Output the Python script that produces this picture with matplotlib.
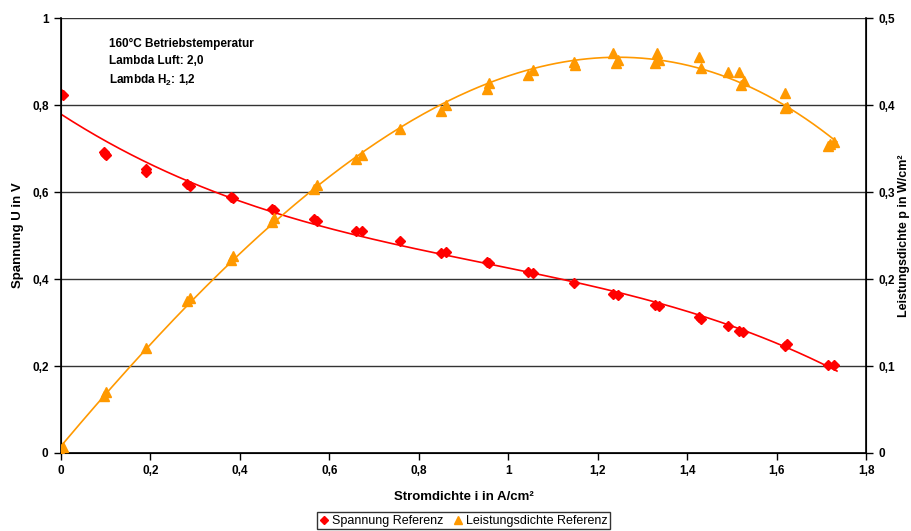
import matplotlib
matplotlib.use("Agg")
import matplotlib.pyplot as plt
import numpy as np
from matplotlib.ticker import FuncFormatter, MultipleLocator

plt.rcParams['font.family'] = ['Liberation Sans', 'DejaVu Sans']
plt.rcParams['mathtext.fontset'] = 'custom'
plt.rcParams['mathtext.rm'] = 'Liberation Sans'
plt.rcParams['mathtext.bf'] = 'Liberation Sans:bold'
plt.rcParams['mathtext.default'] = 'bf'

# voltage measurements (current density i in A/cm², voltage U in V)
i_u = [0.0, 0.005, 0.095, 0.1, 0.098, 0.19, 0.19, 0.282, 0.288, 0.38, 0.385,
       0.472, 0.477, 0.566, 0.572, 0.66, 0.672, 0.758, 0.85, 0.86, 0.953, 0.957,
       1.045, 1.055, 1.147, 1.235, 1.245, 1.328, 1.338, 1.427, 1.432, 1.491,
       1.515, 1.525, 1.618, 1.623, 1.715, 1.728]
u = [0.825, 0.823, 0.692, 0.685, 0.688, 0.652, 0.645, 0.618, 0.615, 0.589, 0.587,
     0.562, 0.558, 0.537, 0.533, 0.51, 0.51, 0.487, 0.46, 0.463, 0.438, 0.436,
     0.415, 0.414, 0.39, 0.366, 0.364, 0.34, 0.339, 0.312, 0.308, 0.292,
     0.28, 0.279, 0.245, 0.25, 0.203, 0.203]

# power density measurements (i in A/cm², p in W/cm²)
i_p = [0.0, 0.005, 0.095, 0.1, 0.19, 0.282, 0.288, 0.38, 0.385,
       0.472, 0.477, 0.566, 0.572, 0.66, 0.672, 0.758, 0.85, 0.86, 0.953, 0.957,
       1.045, 1.055, 1.147, 1.15, 1.235, 1.245, 1.24, 1.333, 1.328, 1.338,
       1.427, 1.432, 1.491, 1.515, 1.52, 1.528, 1.618, 1.618, 1.623,
       1.715, 1.728, 1.72]
p = [0.0, 0.007, 0.065, 0.07, 0.121, 0.175, 0.178, 0.222, 0.227,
     0.265, 0.27, 0.303, 0.308, 0.338, 0.343, 0.373, 0.393, 0.4, 0.418, 0.425,
     0.435, 0.44, 0.45, 0.446, 0.46, 0.452, 0.448, 0.46, 0.448, 0.452,
     0.455, 0.443, 0.438, 0.438, 0.423, 0.428, 0.414, 0.397, 0.398,
     0.353, 0.357, 0.355]

note = "160°C Betriebstemperatur\nLambda Luft: 2,0\nLambda H$_2$: 1,2"

comma = FuncFormatter(lambda v, pos: ('%g' % round(v, 3)).replace('.', ','))

fig = plt.figure(figsize=(9.12, 5.31), dpi=100)
ax = fig.add_axes([0.0669, 0.1469, 0.8827, 0.8191])
ax2 = ax.twinx()

red = '#FF0000'
orange = '#FF9900'

# trendlines (polynomial fits like Excel)
xs = np.linspace(0, 1.735, 200)
cu = np.polyfit(i_u, u, 3)
cp = np.polyfit(i_p, p, 3)
ax.plot(xs, np.polyval(cu, xs), color=red, lw=1.2, zorder=3)
ax2.plot(xs, np.polyval(cp, xs), color=orange, lw=1.2, zorder=3)

ax.plot(i_u, u, 'D', color=red, ms=5, mec=red, zorder=4, label='Spannung Referenz')
ax2.plot(i_p, p, '^', color=orange, ms=7, mec=orange, zorder=4, label='Leistungsdichte Referenz')

ax.set_xlim(0, 1.8)
ax.set_ylim(0, 1)
ax2.set_ylim(0, 0.5)
ax.xaxis.set_major_locator(MultipleLocator(0.2))
ax.yaxis.set_major_locator(MultipleLocator(0.2))
ax2.yaxis.set_major_locator(MultipleLocator(0.1))
for a in (ax.xaxis, ax.yaxis, ax2.yaxis):
    a.set_major_formatter(comma)

ax.yaxis.grid(True, color='#333333', lw=1)
ax.set_axisbelow(True)
ax.spines['top'].set_visible(False)
ax2.spines['top'].set_visible(False)
for s in ('left', 'bottom'):
    ax.spines[s].set_linewidth(1.2)
ax2.spines['right'].set_linewidth(1.2)

ax.tick_params(direction='out', length=5, width=1, labelsize=8.5, pad=4)
ax2.tick_params(direction='out', length=5, width=1, labelsize=8.5, pad=4)
for lab in ax.get_xticklabels() + ax.get_yticklabels() + ax2.get_yticklabels():
    lab.set_fontweight('bold')

ax.set_xlabel('Stromdichte i in A/cm²', fontsize=9.5, fontweight='bold', labelpad=10)
ax.set_ylabel('Spannung U in V', fontsize=9.5, fontweight='bold', labelpad=6)
ax2.set_ylabel('Leistungsdichte p in W/cm²', fontsize=9, fontweight='bold', labelpad=2)

ax.text(0.108, 0.955, note, fontsize=8.5, fontweight='bold', va='top', ha='left',
        linespacing=1.55)

h1, l1 = ax.get_legend_handles_labels()
h2, l2 = ax2.get_legend_handles_labels()
leg = fig.legend(h1 + h2, l1 + l2, loc='center', bbox_to_anchor=(0.508, 0.019),
                 ncol=2, fontsize=9, frameon=True, fancybox=False,
                 edgecolor='black', handlelength=0.8, handletextpad=0.2,
                 columnspacing=0.8, borderpad=0.2, markerscale=0.75)
leg.get_frame().set_linewidth(1)

fig.savefig('out.png', dpi=100)
